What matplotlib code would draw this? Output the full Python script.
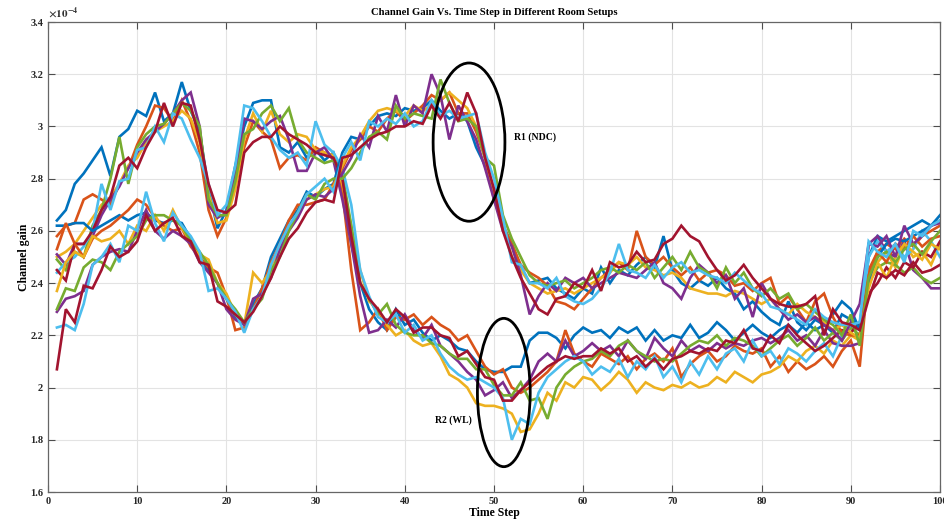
import matplotlib
matplotlib.use("Agg")
import matplotlib.pyplot as plt
from matplotlib.patches import Ellipse
import numpy as np

time_step = list(range(1, 101))

# ---- R2 (WL) group : high early, drops after step 33 ----
r2_blue = [2.64,2.68,2.78,2.82,2.87,2.92,2.81,2.96,2.99,3.06,3.04,3.13,3.02,3.05,3.17,3.06,2.98,2.76,2.61,2.68,
           2.85,3.00,3.09,3.10,3.10,2.92,2.90,2.94,2.88,2.91,2.87,2.90,2.80,2.55,2.40,2.30,2.25,2.22,2.30,2.24,
           2.26,2.21,2.18,2.20,2.18,2.15,2.14,2.10,2.07,2.06,2.06,2.08,2.08,2.18,2.21,2.21,2.19,2.15,2.20,2.23,
           2.21,2.22,2.19,2.23,2.21,2.23,2.18,2.22,2.18,2.20,2.19,2.24,2.19,2.21,2.25,2.22,2.18,2.21,2.24,2.21,
           2.19,2.22,2.24,2.21,2.25,2.22,2.24,2.21,2.28,2.26,2.24,2.50,2.58,2.56,2.58,2.60,2.62,2.64,2.62,2.66]
r2_orange = [2.58,2.62,2.63,2.72,2.74,2.72,2.70,2.78,2.84,2.93,3.00,3.08,3.07,3.02,3.10,3.02,2.90,2.68,2.58,2.65,
             2.78,2.92,3.02,2.98,2.95,2.84,2.88,2.89,2.87,2.92,2.90,2.88,2.75,2.45,2.22,2.25,2.30,2.22,2.27,2.26,
             2.28,2.24,2.27,2.24,2.22,2.18,2.20,2.14,2.08,2.05,2.07,2.00,1.98,2.00,2.03,2.06,2.10,2.22,2.13,2.10,
             2.08,2.13,2.11,2.09,2.12,2.07,2.11,2.13,2.10,2.15,2.04,2.09,2.12,2.14,2.10,2.12,2.16,2.14,2.13,2.15,
             2.08,2.12,2.06,2.10,2.07,2.09,2.12,2.08,2.14,2.18,2.08,2.45,2.52,2.55,2.53,2.57,2.54,2.58,2.60,2.62]
r2_yellow = [2.50,2.52,2.55,2.60,2.65,2.70,2.73,2.78,2.85,2.88,2.94,2.98,3.00,3.02,3.06,3.03,2.94,2.74,2.63,2.64,
             2.76,2.95,3.05,2.98,3.06,2.97,2.94,2.97,2.96,2.91,2.90,2.89,2.78,2.62,2.45,2.33,2.30,2.24,2.20,2.22,
             2.18,2.16,2.17,2.12,2.05,2.03,2.00,1.94,1.93,1.93,1.92,1.90,1.83,1.84,1.90,1.98,1.95,2.02,2.00,2.04,
             2.03,1.99,2.02,2.06,2.03,1.98,2.02,2.00,1.99,2.01,2.00,2.02,2.00,2.01,2.04,2.02,2.06,2.04,2.02,2.05,
             2.06,2.08,2.12,2.10,2.14,2.16,2.13,2.18,2.16,2.20,2.18,2.43,2.48,2.52,2.46,2.55,2.50,2.52,2.47,2.55]
r2_purple = [2.51,2.47,2.55,2.55,2.58,2.66,2.72,2.77,2.84,2.90,2.95,2.98,3.01,3.05,3.10,3.13,3.00,2.70,2.65,2.67,
             2.82,3.03,3.02,2.99,3.02,3.04,2.95,2.83,2.83,2.90,2.92,2.87,2.72,2.55,2.35,2.21,2.22,2.26,2.23,2.28,
             2.22,2.19,2.24,2.16,2.13,2.10,2.06,2.03,1.97,1.99,2.02,1.96,1.99,2.03,2.10,2.13,2.10,2.18,2.12,2.14,
             2.17,2.14,2.16,2.12,2.18,2.14,2.11,2.19,2.15,2.12,2.18,2.14,2.16,2.14,2.17,2.15,2.17,2.16,2.18,2.19,
             2.17,2.19,2.22,2.18,2.20,2.16,2.22,2.17,2.16,2.16,2.17,2.55,2.58,2.52,2.50,2.56,2.45,2.42,2.38,2.38]
r2_green = [2.49,2.45,2.52,2.50,2.62,2.68,2.80,2.96,2.78,2.92,2.97,3.00,3.01,3.05,3.09,3.06,3.00,2.72,2.66,2.66,
            2.79,2.97,2.99,3.05,3.08,3.02,3.07,2.95,2.90,2.88,2.86,2.87,2.82,2.62,2.40,2.34,2.28,2.32,2.24,2.21,
            2.20,2.20,2.17,2.16,2.13,2.11,2.11,2.07,2.07,2.01,1.97,1.97,2.02,1.95,1.96,1.88,2.00,2.05,2.08,2.10,
            2.11,2.14,2.12,2.16,2.18,2.14,2.12,2.10,2.11,2.10,2.13,2.16,2.18,2.17,2.20,2.16,2.19,2.18,2.16,2.12,
            2.15,2.18,2.20,2.16,2.19,2.23,2.18,2.21,2.18,2.23,2.20,2.40,2.46,2.48,2.47,2.44,2.46,2.42,2.40,2.42]
r2_cyan = [2.44,2.48,2.50,2.54,2.60,2.78,2.68,2.79,2.80,2.91,2.92,3.00,2.94,3.05,3.03,2.95,2.88,2.78,2.66,2.70,
           2.85,3.08,3.07,3.02,2.96,2.91,2.88,2.90,2.85,3.02,2.93,2.90,2.84,2.70,2.45,2.35,2.27,2.25,2.28,2.21,
           2.24,2.18,2.20,2.13,2.08,2.05,2.03,2.04,2.02,2.00,1.96,1.80,1.88,1.86,1.98,2.04,2.07,2.10,2.12,2.10,
           2.05,2.08,2.06,2.11,2.04,2.10,2.07,2.12,2.04,2.08,2.02,2.10,2.05,2.12,2.07,2.13,2.15,2.10,2.18,2.12,
           2.14,2.09,2.15,2.13,2.10,2.14,2.17,2.12,2.20,2.24,2.22,2.50,2.56,2.52,2.55,2.50,2.53,2.60,2.56,2.50]
r2_red = [2.45,2.41,2.55,2.55,2.60,2.68,2.73,2.85,2.88,2.84,2.92,2.98,3.09,3.00,3.09,3.08,2.95,2.78,2.68,2.67,
          2.70,2.90,2.94,2.96,2.96,3.00,2.97,2.95,2.93,2.90,2.89,2.88,2.80,2.58,2.40,2.34,2.30,2.25,2.30,2.27,
          2.21,2.23,2.23,2.20,2.19,2.12,2.14,2.09,2.04,2.03,1.95,1.95,1.99,2.02,2.05,2.08,2.10,2.12,2.11,2.12,
          2.12,2.15,2.13,2.15,2.10,2.12,2.08,2.11,2.07,2.11,2.12,2.14,2.13,2.15,2.14,2.18,2.17,2.22,2.15,2.14,
          2.20,2.17,2.24,2.20,2.17,2.14,2.16,2.19,2.22,2.21,2.25,2.36,2.40,2.46,2.42,2.48,2.46,2.52,2.50,2.56]

# ---- R1 (NDC) group : low early, high around step 40-47 ----
r1_blue = [2.62,2.62,2.63,2.63,2.60,2.62,2.64,2.66,2.64,2.66,2.67,2.64,2.63,2.64,2.63,2.57,2.50,2.45,2.40,2.34,
           2.27,2.25,2.32,2.38,2.50,2.57,2.64,2.68,2.75,2.73,2.76,2.78,2.90,2.96,2.95,3.00,3.04,3.05,3.04,3.07,
           3.06,3.07,3.10,3.06,3.03,3.05,3.02,2.92,2.85,2.75,2.62,2.55,2.46,2.40,2.41,2.42,2.38,2.36,2.34,2.38,
           2.36,2.46,2.40,2.45,2.43,2.47,2.50,2.46,2.58,2.45,2.40,2.38,2.41,2.39,2.42,2.38,2.36,2.30,2.33,2.29,
           2.26,2.24,2.33,2.25,2.22,2.26,2.24,2.28,2.33,2.30,2.22,2.40,2.50,2.55,2.57,2.56,2.58,2.60,2.62,2.64]
r1_orange = [2.53,2.63,2.55,2.50,2.57,2.60,2.62,2.65,2.68,2.72,2.70,2.65,2.62,2.60,2.61,2.54,2.50,2.46,2.44,2.35,
             2.22,2.23,2.30,2.38,2.48,2.55,2.64,2.70,2.70,2.71,2.72,2.78,2.84,2.91,2.95,3.00,2.98,3.03,3.06,3.02,
             3.05,3.08,3.12,3.10,3.13,3.05,3.05,2.98,2.88,2.72,2.62,2.55,2.47,2.44,2.42,2.39,2.33,2.32,2.30,2.34,
             2.38,2.42,2.45,2.48,2.45,2.60,2.50,2.47,2.50,2.46,2.43,2.46,2.41,2.44,2.45,2.43,2.39,2.40,2.37,2.40,
             2.42,2.32,2.35,2.30,2.25,2.33,2.36,2.27,2.21,2.20,2.20,2.43,2.52,2.48,2.55,2.53,2.58,2.54,2.57,2.58]
r1_yellow = [2.37,2.48,2.52,2.50,2.58,2.56,2.57,2.60,2.55,2.62,2.60,2.66,2.60,2.68,2.61,2.56,2.51,2.49,2.40,2.36,
             2.28,2.24,2.44,2.40,2.45,2.53,2.61,2.67,2.72,2.74,2.76,2.77,2.85,2.92,2.96,3.02,3.06,3.07,3.06,3.04,
             3.08,3.06,3.08,3.10,3.13,3.10,3.07,3.00,2.88,2.75,2.62,2.50,2.45,2.40,2.38,2.36,2.37,2.38,2.36,2.38,
             2.40,2.42,2.44,2.48,2.47,2.50,2.46,2.45,2.43,2.44,2.42,2.38,2.37,2.36,2.36,2.35,2.37,2.36,2.34,2.32,
             2.34,2.30,2.28,2.32,2.29,2.27,2.25,2.22,2.24,2.21,2.19,2.38,2.48,2.42,2.50,2.55,2.52,2.49,2.55,2.53]
r1_purple = [2.29,2.34,2.35,2.37,2.47,2.50,2.52,2.53,2.52,2.60,2.68,2.60,2.57,2.60,2.58,2.55,2.48,2.44,2.40,2.30,
             2.26,2.24,2.34,2.36,2.42,2.53,2.60,2.65,2.72,2.74,2.73,2.76,2.82,2.88,2.97,2.92,3.04,2.98,3.12,3.00,
             3.08,3.05,3.20,3.12,2.95,3.08,3.02,2.95,2.84,2.72,2.60,2.54,2.43,2.28,2.35,2.40,2.37,2.42,2.40,2.42,
             2.38,2.40,2.42,2.44,2.43,2.42,2.45,2.48,2.40,2.38,2.34,2.42,2.47,2.44,2.40,2.43,2.34,2.38,2.27,2.40,
             2.34,2.30,2.26,2.28,2.25,2.27,2.24,2.22,2.18,2.25,2.32,2.55,2.54,2.58,2.50,2.62,2.55,2.58,2.62,2.63]
r1_green = [2.30,2.38,2.37,2.46,2.49,2.48,2.45,2.52,2.55,2.58,2.64,2.66,2.66,2.64,2.62,2.56,2.52,2.47,2.40,2.34,
            2.30,2.25,2.30,2.34,2.45,2.50,2.60,2.67,2.74,2.72,2.78,2.80,2.80,2.84,2.90,2.96,2.98,2.95,3.08,3.03,
            3.05,3.04,3.03,3.18,3.09,3.02,3.03,3.00,2.88,2.85,2.66,2.57,2.50,2.43,2.40,2.39,2.40,2.41,2.38,2.40,
            2.42,2.45,2.46,2.44,2.47,2.45,2.48,2.42,2.46,2.50,2.45,2.52,2.46,2.44,2.38,2.46,2.40,2.44,2.38,2.35,
            2.38,2.34,2.36,2.30,2.32,2.29,2.26,2.24,2.20,2.28,2.16,2.42,2.50,2.52,2.48,2.53,2.55,2.51,2.56,2.60]
r1_cyan = [2.23,2.24,2.22,2.32,2.47,2.50,2.55,2.48,2.62,2.60,2.75,2.63,2.56,2.67,2.62,2.58,2.52,2.37,2.38,2.34,
           2.29,2.21,2.30,2.35,2.47,2.55,2.62,2.67,2.74,2.77,2.80,2.75,2.88,2.94,2.87,3.02,3.00,3.03,3.01,3.05,
           3.00,3.02,3.10,3.04,3.06,3.03,3.04,3.05,2.90,2.80,2.65,2.48,2.47,2.40,2.40,2.38,2.42,2.35,2.33,2.32,
           2.34,2.38,2.44,2.55,2.45,2.44,2.42,2.47,2.42,2.46,2.48,2.44,2.45,2.43,2.42,2.40,2.44,2.41,2.38,2.36,
           2.31,2.30,2.28,2.26,2.24,2.30,2.27,2.25,2.24,2.24,2.25,2.56,2.52,2.50,2.55,2.48,2.60,2.58,2.62,2.64]
r1_red = [2.07,2.30,2.25,2.39,2.38,2.45,2.54,2.50,2.52,2.56,2.66,2.60,2.63,2.65,2.58,2.56,2.48,2.47,2.33,2.31,
          2.28,2.25,2.29,2.35,2.42,2.50,2.57,2.61,2.67,2.71,2.72,2.71,2.88,2.89,2.92,2.95,2.97,2.98,3.00,3.00,
          3.02,3.01,3.08,3.03,3.09,3.02,3.13,3.05,2.88,2.76,2.60,2.50,2.42,2.36,2.30,2.28,2.34,2.35,2.40,2.38,
          2.45,2.37,2.48,2.46,2.47,2.52,2.48,2.49,2.55,2.57,2.62,2.58,2.56,2.50,2.45,2.41,2.43,2.47,2.42,2.38,
          2.34,2.32,2.31,2.31,2.32,2.35,2.20,2.30,2.25,2.24,2.22,2.34,2.44,2.42,2.45,2.43,2.48,2.44,2.45,2.47]

colors = ["#0072BD", "#D95319", "#EDB120", "#7E2F8E", "#77AC30", "#4DBEEE", "#A2142F"]
r2_series = [r2_blue, r2_orange, r2_yellow, r2_purple, r2_green, r2_cyan, r2_red]
r1_series = [r1_blue, r1_orange, r1_yellow, r1_purple, r1_green, r1_cyan, r1_red]

yticks = [1.6, 1.8, 2.0, 2.2, 2.4, 2.6, 2.8, 3.0, 3.2, 3.4]
ytick_labels = ["1.6", "1.8", "2", "2.2", "2.4", "2.6", "2.8", "3", "3.2", "3.4"]
xticks = [0, 10, 20, 30, 40, 50, 60, 70, 80, 90, 100]

serif = ["Liberation Serif", "DejaVu Serif"]
plt.rcParams["font.family"] = serif
plt.rcParams["font.weight"] = "bold"
plt.rcParams["mathtext.fontset"] = "stix"

fig = plt.figure(figsize=(9.45, 5.2), dpi=100)
ax = fig.add_axes([48/945, 28/520, 892/945, 470/520])

for s, c in zip(r2_series, colors):
    ax.plot(time_step, s, color=c, lw=1.9, solid_joinstyle="miter")
for s, c in zip(r1_series, colors):
    ax.plot(time_step, s, color=c, lw=1.9, solid_joinstyle="miter")

ax.add_patch(Ellipse((47.2, 2.94), 8.05, 0.606, fill=False, ec="black", lw=2.0, zorder=5))
ax.add_patch(Ellipse((51.1, 1.981), 5.92, 0.568, fill=False, ec="black", lw=2.0, zorder=5))
ax.text(52.2, 2.96, "R1 (NDC)", fontsize=7, fontweight="bold", va="center", ha="left")
ax.text(43.4, 1.876, "R2 (WL)", fontsize=7, fontweight="bold", va="center", ha="left")

ax.set_xlim(0, 100)
ax.set_ylim(1.6, 3.4)
ax.set_xticks(xticks)
ax.set_yticks(yticks)
ax.set_yticklabels(ytick_labels)
ax.tick_params(direction="in", length=5, width=0.8, colors="#4d4d4d", labelcolor="#262626",
               labelsize=7.5, top=True, right=True)
for lab in ax.get_xticklabels() + ax.get_yticklabels():
    lab.set_fontweight("bold")
ax.grid(True, color="#e3e3e3", lw=0.8)
ax.set_axisbelow(True)
for sp in ax.spines.values():
    sp.set_color("#666666")
    sp.set_linewidth(0.9)

ax.set_title("Channel Gain Vs. Time Step in Different Room Setups", fontsize=7.7, fontweight="bold", pad=5)
ax.set_xlabel("Time Step", fontsize=8.5, fontweight="bold", labelpad=1)
ax.set_ylabel("Channel gain", fontsize=8.5, fontweight="bold")
ax.yaxis.set_label_coords(-0.02, 0.5)
ax.text(0.0, 1.004, r"$\times10^{-4}$", transform=ax.transAxes, fontsize=8, ha="left", va="bottom",
        color="#333333")

fig.savefig("out.png", dpi=100)
